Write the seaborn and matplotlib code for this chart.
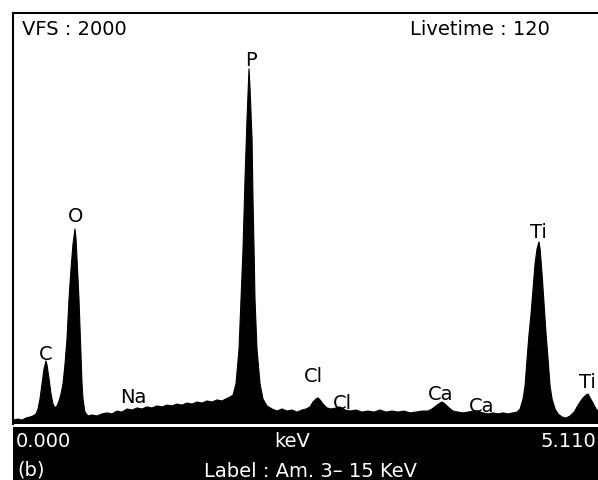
import matplotlib
matplotlib.use("Agg")
import matplotlib.pyplot as plt
import seaborn as sns
import pandas as pd
from matplotlib.patches import Rectangle

# ---- data (energy in keV, counts) ----
energy_kev = [
    0.000, 0.043, 0.077, 0.111, 0.145, 0.170, 0.196, 0.213, 0.230, 0.247,
    0.264, 0.281, 0.290, 0.307, 0.324, 0.341, 0.358, 0.375, 0.392, 0.409,
    0.426, 0.443, 0.460, 0.477, 0.494, 0.511, 0.528, 0.537, 0.554, 0.562,
    0.571, 0.579, 0.588, 0.596, 0.613, 0.639, 0.673, 0.716, 0.758, 0.801,
    0.843, 0.886, 0.928, 0.971, 1.014, 1.056, 1.099, 1.141, 1.184, 1.227,
    1.269, 1.312, 1.354, 1.397, 1.440, 1.482, 1.525, 1.567, 1.610, 1.652,
    1.695, 1.738, 1.780, 1.814, 1.848, 1.874, 1.899, 1.925, 1.942, 1.959,
    1.976, 1.993, 2.010, 2.019, 2.036, 2.044, 2.053, 2.061, 2.078, 2.104,
    2.129, 2.163, 2.206, 2.249, 2.291, 2.334, 2.376, 2.419, 2.462, 2.496,
    2.530, 2.555, 2.581, 2.598, 2.615, 2.641, 2.675, 2.709, 2.751, 2.785,
    2.828, 2.871, 2.922, 2.973, 3.024, 3.075, 3.126, 3.177, 3.228, 3.279,
    3.330, 3.382, 3.433, 3.484, 3.535, 3.569, 3.603, 3.637, 3.654, 3.680,
    3.714, 3.748, 3.790, 3.833, 3.876, 3.918, 3.961, 4.003, 4.046, 4.089,
    4.131, 4.174, 4.216, 4.259, 4.293, 4.319, 4.344, 4.361, 4.378, 4.395,
    4.412, 4.429, 4.446, 4.463, 4.480, 4.489, 4.506, 4.523, 4.540, 4.557,
    4.574, 4.591, 4.617, 4.642, 4.676, 4.710, 4.744, 4.779, 4.804, 4.830,
    4.855, 4.881, 4.898, 4.915, 4.940, 4.966, 5.000, 5.043, 5.111,
]
counts = [
    19, 24, 19, 29, 34, 39, 49, 73, 122, 195,
    268, 307, 287, 219, 146, 97, 78, 88, 112, 146,
    195, 292, 414, 608, 754, 876, 949, 900, 706, 608,
    462, 341, 195, 122, 58, 39, 44, 39, 49, 54,
    49, 63, 58, 73, 68, 78, 73, 83, 78, 88,
    83, 92, 88, 97, 92, 102, 97, 107, 102, 112,
    107, 117, 112, 122, 131, 141, 195, 365, 608, 852,
    1192, 1484, 1728, 1630, 1387, 1095, 852, 608, 365, 195,
    122, 88, 73, 63, 73, 63, 68, 58, 68, 73,
    83, 107, 122, 127, 117, 97, 78, 73, 78, 83,
    68, 63, 68, 58, 63, 58, 68, 58, 63, 58,
    63, 54, 58, 63, 63, 73, 88, 102, 107, 97,
    78, 63, 58, 54, 58, 63, 63, 54, 49, 54,
    49, 54, 49, 54, 58, 73, 122, 185, 316, 438,
    535, 657, 779, 852, 886, 852, 730, 584, 438, 316,
    185, 122, 73, 49, 34, 29, 39, 58, 83, 107,
    127, 141, 146, 127, 102, 73, 54, 44, 39,
]

peak_labels = ["C", "O", "Na", "P", "Cl", "Cl", "Ca", "Ca", "Ti", "Ti"]
label_energy = [0.281, 0.532, 1.022, 2.027, 2.555, 2.802, 3.646, 3.995, 4.472, 4.889]
label_counts = [316, 988, 107, 1745, 209, 78, 122, 63, 910, 180]

header_left = "VFS : 2000"
header_right = "Livetime : 120"
axis_start = "0.000"
axis_end = "5.110"
axis_unit = "keV"
panel_tag = "(b)"
footer = "Label : Am. 3\u2013 15 KeV"

x_min, x_max = 0.0, 5.11
y_min, y_max = 0, 2000

# ---- figure ----
sns.set_style("white")
plt.rcParams["font.family"] = ["DejaVu Sans"]

W, H = 598, 481
fig = plt.figure(figsize=(W / 100, H / 100), dpi=100)
fig.patch.set_facecolor("white")

def fx(px):
    return px / W

def fy(py):
    return (H - py) / H

# spectrum axes (extends past the right edge, as in the cropped original)
ax = fig.add_axes([fx(13), fy(425), 600 / W, (425 - 14) / H])
df = pd.DataFrame({"E": energy_kev, "counts": counts})
sns.lineplot(data=df, x="E", y="counts", color="black", lw=0.8,
             estimator=None, sort=False, ax=ax)
ax.fill_between(df["E"], 0, df["counts"], color="black", lw=0)
ax.set_xlim(x_min, x_max)
ax.set_ylim(y_min, y_max)
ax.set_xticks([])
ax.set_yticks([])
ax.set_xlabel("")
ax.set_ylabel("")
for side in ["right", "bottom"]:
    ax.spines[side].set_visible(False)
for side in ["left", "top"]:
    ax.spines[side].set_visible(True)
    ax.spines[side].set_color("black")
    ax.spines[side].set_linewidth(1.5)

fs = 14
for lab, e, c in zip(peak_labels, label_energy, label_counts):
    ax.text(e, c, lab, ha="center", va="baseline", fontsize=fs, color="black")

# header texts
fig.text(fx(22), fy(35), header_left, ha="left", va="baseline", fontsize=fs, color="black")
fig.text(fx(410), fy(35), header_right, ha="left", va="baseline", fontsize=fs, color="black")

# black information band
fig.patches.append(Rectangle((fx(13), 0), 1.0, fy(428), transform=fig.transFigure,
                             facecolor="black", edgecolor="none", zorder=0))
fig.text(fx(16), fy(447), axis_start, ha="left", va="baseline", fontsize=fs, color="white")
fig.text(fx(292), fy(447), axis_unit, ha="center", va="baseline", fontsize=fs, color="white")
fig.text(fx(596), fy(447), axis_end, ha="right", va="baseline", fontsize=fs, color="white")
fig.text(fx(17), fy(476), panel_tag, ha="left", va="baseline", fontsize=fs, color="white")
fig.text(fx(311), fy(477), footer, ha="center", va="baseline", fontsize=fs, color="white")

fig.savefig("out.png", dpi=100, facecolor="white")
